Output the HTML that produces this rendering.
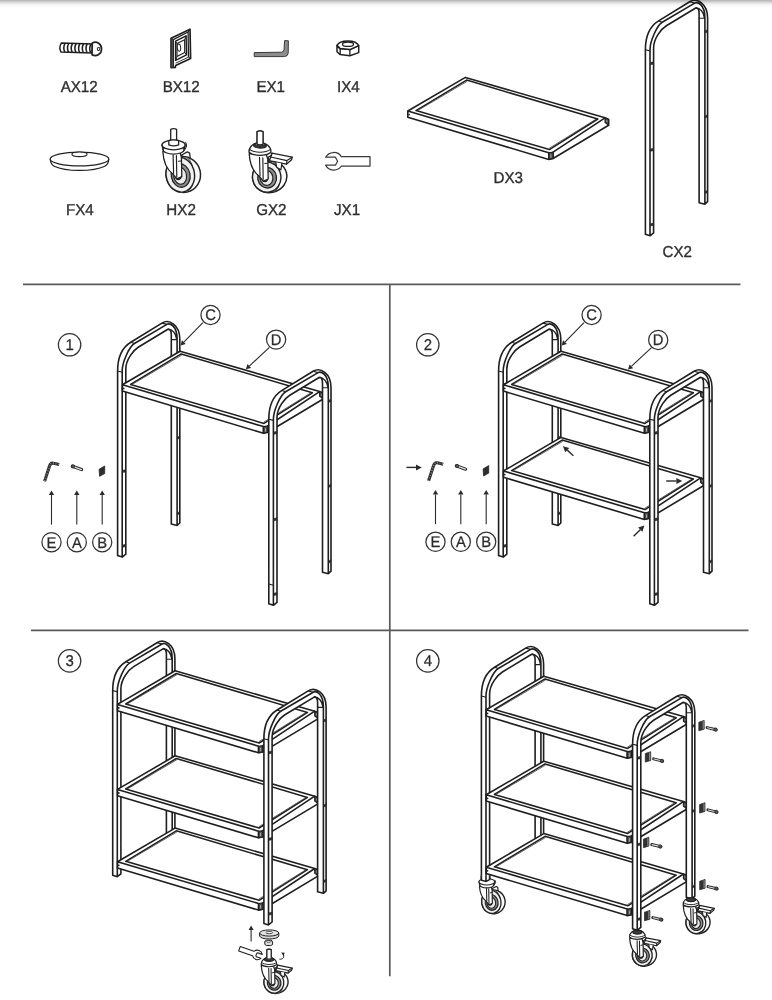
<!DOCTYPE html>
<html lang="en"><head><meta charset="utf-8"><title>Assembly instructions</title>
<style>
html,body{margin:0;padding:0;background:#fff;}
body{width:772px;height:1000px;overflow:hidden;position:relative;font-family:"Liberation Sans",sans-serif;}
.topshade{position:absolute;left:0;top:0;width:772px;height:8px;background:linear-gradient(to bottom,rgba(0,0,0,.3),rgba(0,0,0,.17) 25%,rgba(0,0,0,.06) 50%,rgba(0,0,0,.015) 75%,rgba(0,0,0,0));}
svg{position:absolute;left:0;top:0;display:block;will-change:transform;}
</style></head><body>
<svg width="772" height="1000" viewBox="0 0 772 1000"><path d="M23,284.4H740.5 M31,630.4H748.5 M389.8,284.4V976.2" stroke="#5a5a5a" stroke-width="1.7" fill="none"/>
<g transform="rotate(1.5 80 48)">
<path d="M61.2,43.6 H92.2 V52.6 H61.2 Q58.6,48.1 61.2,43.6Z" fill="#fff" stroke="#1f1f1f" stroke-width="1.5" />
<path d="M64.9,43.8 Q62.7,48.1 64.9,52.4M68.6,43.8 Q66.4,48.1 68.6,52.4M72.3,43.8 Q70.1,48.1 72.3,52.4M76,43.8 Q73.8,48.1 76,52.4M79.7,43.8 Q77.5,48.1 79.7,52.4M83.4,43.8 Q81.2,48.1 83.4,52.4M87.1,43.8 Q84.9,48.1 87.1,52.4M90.8,43.8 Q88.6,48.1 90.8,52.4" fill="none" stroke="#1f1f1f" stroke-width="1.55" />
<path d="M92.2,42.6 C96.5,40.2 101.6,43.4 101.6,48.6 C101.6,53.6 96.5,56.8 92.2,54.4Z" fill="#fff" stroke="#1f1f1f" stroke-width="1.6" />
<ellipse cx="98.6" cy="48.5" rx="1.3" ry="1.6" fill="#fff" stroke="#222" stroke-width="1"/>
</g>
<text text-rendering="geometricPrecision" transform="translate(79.2 91.9) scale(0.96 1)" font-size="15.8" text-anchor="middle" fill="#2e2e2e" font-family="Liberation Sans, sans-serif" stroke="#2e2e2e" stroke-width="0.35">AX12</text>
<path d="M171.1,38.3 L190,29.2 L190.6,58.5 L175.6,65.6 L175.4,67.3 L171.1,67.6Z" fill="#fff" stroke="#1f1f1f" stroke-width="1.7" stroke-linejoin="round"/>
<path d="M173.3,39.6 L188.1,32.0 L188.5,57.2 M173.3,39.6 V66.8" fill="none" stroke="#1f1f1f" stroke-width="1.3" stroke-linejoin="round"/>
<path d="M171.1,38.3 L173.3,39.6 M190,29.2 L188.1,32.0 M190.6,58.5 L188.5,57.2" fill="none" stroke="#1f1f1f" stroke-width="1" />
<path d="M171.1,38.3 L173.3,39.6 V67.2 L171.1,67.6Z" fill="#555" stroke="#1f1f1f" stroke-width="0.8" />
<path d="M175.6,41.2 L186.1,35.8 L186.5,54.8 L175.6,60.4Z" fill="none" stroke="#1f1f1f" stroke-width="1.5" stroke-linejoin="round"/>
<path d="M177.0,43.6 L184.6,39.8 L184.7,52.4 L177.0,56.4Z" fill="none" stroke="#1f1f1f" stroke-width="1.1" stroke-linejoin="round"/>
<path d="M175.6,63.2 L188.4,57.2 M175.6,60.4 L177,56.4 M186.5,54.8 L184.7,52.4 M186.1,35.8 L184.6,39.8 M175.6,41.2 L177,43.6" fill="none" stroke="#1f1f1f" stroke-width="0.9" />
<ellipse cx="179.0" cy="47.6" rx="1.7" ry="3.6" fill="#fff" stroke="#222" stroke-width="1" transform="rotate(-6 179 47.6)"/>
<text text-rendering="geometricPrecision" transform="translate(181.2 91.9) scale(0.96 1)" font-size="15.8" text-anchor="middle" fill="#2e2e2e" font-family="Liberation Sans, sans-serif" stroke="#2e2e2e" stroke-width="0.35">BX12</text>
<path d="M254.2,52.6 L281.6,52.2 Q283.8,52 284.0,49.8 L284.6,40.6 L288.4,40.8 L288.2,53.2 Q287.8,56.4 284.4,56.6 L254.2,56.6Z" fill="#8c8c8c" stroke="#3a3a3a" stroke-width="1" stroke-linejoin="round"/>
<text text-rendering="geometricPrecision" transform="translate(270.7 91.9) scale(0.96 1)" font-size="15.8" text-anchor="middle" fill="#2e2e2e" font-family="Liberation Sans, sans-serif" stroke="#2e2e2e" stroke-width="0.35">EX1</text>
<path d="M337.0,45.4 L340.2,48.6 L349.9,49.6 L358.7,45.6 L358.7,52.6 L349.9,55.7 L340.2,54.6 L337.0,51.8Z" fill="#fff" stroke="#1f1f1f" stroke-width="1.5" stroke-linejoin="round"/>
<path d="M337.0,45.4 C338.4,42.6 342.6,41.0 347.8,40.9 C353,40.9 357.4,42.6 358.7,45.6 L349.9,49.6 L340.2,48.6Z" fill="#fff" stroke="#1f1f1f" stroke-width="1.5" stroke-linejoin="round"/>
<path d="M340.2,48.6 L340.2,54.6 M349.9,49.6 L349.9,55.7" fill="none" stroke="#1f1f1f" stroke-width="1.3" />
<ellipse cx="348" cy="44.2" rx="5.5" ry="2.2" fill="#fff" stroke="#222" stroke-width="1.3"/>
<text text-rendering="geometricPrecision" transform="translate(348.3 91.9) scale(0.96 1)" font-size="15.8" text-anchor="middle" fill="#2e2e2e" font-family="Liberation Sans, sans-serif" stroke="#2e2e2e" stroke-width="0.35">IX4</text>
<path d="M50.2,159 C50.6,163.5 53,165.6 54.2,166.2 C66,171.8 93,171.8 104.8,166.2 C106,165.6 108.6,163.5 108.8,159" fill="#fff" stroke="#1f1f1f" stroke-width="1.2" />
<ellipse cx="79.5" cy="159" rx="29.3" ry="6.9" fill="#fff" stroke="#222" stroke-width="1.2"/>
<ellipse cx="79.5" cy="154.3" rx="7.6" ry="2.3" fill="#fff" stroke="#222" stroke-width="1.1"/>
<text text-rendering="geometricPrecision" transform="translate(79.8 215.4) scale(0.96 1)" font-size="15.8" text-anchor="middle" fill="#2e2e2e" font-family="Liberation Sans, sans-serif" stroke="#2e2e2e" stroke-width="0.35">FX4</text>
<g transform="translate(183,174.5) scale(1)" stroke-linejoin="round" stroke-linecap="round">
<path d="M-12.3,-45.2 L-12.3,-32.5 L-6.4,-32.5 L-6.4,-45.2 Q-9.3,-46.5 -12.3,-45.2Z" fill="#fff" stroke="#222" stroke-width="1.3"/>
<path d="M-1.4,-19.5 L4.4,-22.6 L6.6,-21.4 L7.4,-15.2 L2,-13Z" fill="#fff" stroke="#222" stroke-width="1.3"/>
<ellipse cx="0.3" cy="0" rx="17.2" ry="18" fill="#fbfbfb" stroke="#222" stroke-width="1.49" transform="rotate(-12 0.3 0)"/>
<path d="M3.4,-17.4 C12.6,-11.16 13.4,11.88 4.2,17.1" fill="none" stroke="#555" stroke-width="1.04"/>
<ellipse cx="-2.7" cy="0.2" rx="14.2" ry="17.5" fill="#f1f1f1" stroke="#222" stroke-width="1.43" transform="rotate(-10 -2.7 0.2)"/>
<ellipse cx="-2.3" cy="1" rx="9.4" ry="11.8" fill="#8c8c8c" stroke="#222" stroke-width="1.3" transform="rotate(-10 -2.3 1)"/>
<ellipse cx="-2.9" cy="1.2" rx="6.4" ry="8.6" fill="#ececec" stroke="#222" stroke-width="1.17" transform="rotate(-10 -2.9 1.2)"/>
<ellipse cx="-4.6" cy="1.9" rx="2.7" ry="3.1" fill="#222" stroke="#222" stroke-width="1.3"/>
<path d="M-20.2,-23.2 C-19.6,-12 -15.5,-4.5 -10.2,-0.6 L-6.0,4.4 L-1.2,2.2 L-1.6,-17.5 L-3.2,-22.5 Z" fill="#fff" stroke="#222" stroke-width="1.3"/>
<path d="M-9.9,-19.4 L-9.4,-1.2 M-6.6,-19.0 L-6.2,2.4" fill="none" stroke="#222" stroke-width="1.17"/>
<path d="M-4.6,-13.2 L-2,-13.6" fill="none" stroke="#222" stroke-width="1.04"/>
<ellipse cx="-9.4" cy="-25" rx="10.6" ry="4.6" fill="#fff" stroke="#222" stroke-width="1.3"/>
<path d="M-21,-29.5 L-20.0,-25.0 M2.2,-29.5 L1.2,-25.0" fill="none" stroke="#222" stroke-width="1.3"/>
<path d="M2.6,-31.8 C4.4,-29.6 3.6,-26.4 0.8,-24.2" fill="none" stroke="#222" stroke-width="1.04"/>
<ellipse cx="-9.4" cy="-29.5" rx="11.6" ry="4.8" fill="#fff" stroke="#222" stroke-width="1.3"/>
<path d="M-14.2,-34 L-14.2,-29.6 Q-9.3,-27.8 -4.4,-29.6 L-4.4,-34 Q-9.3,-35.4 -14.2,-34Z" fill="#fff" stroke="#222" stroke-width="1.3"/>
</g>
<text text-rendering="geometricPrecision" transform="translate(181.1 215.4) scale(0.96 1)" font-size="15.8" text-anchor="middle" fill="#2e2e2e" font-family="Liberation Sans, sans-serif" stroke="#2e2e2e" stroke-width="0.35">HX2</text>
<g transform="translate(269.4,176.8) scale(1)" stroke-linejoin="round" stroke-linecap="round">
<path d="M-12.3,-45.2 L-12.3,-32.5 L-6.4,-32.5 L-6.4,-45.2 Q-9.3,-46.5 -12.3,-45.2Z" fill="#fff" stroke="#222" stroke-width="1.3"/>
<path d="M-1.4,-19.5 L4.4,-22.6 L6.6,-21.4 L7.4,-15.2 L2,-13Z" fill="#fff" stroke="#222" stroke-width="1.3"/>
<ellipse cx="0.3" cy="0" rx="17.2" ry="15.8" fill="#fbfbfb" stroke="#222" stroke-width="1.49" transform="rotate(-12 0.3 0)"/>
<path d="M3.4,-15.2 C12.6,-9.8 13.4,10.43 4.2,14.9" fill="none" stroke="#555" stroke-width="1.04"/>
<ellipse cx="-2.7" cy="0.2" rx="14.2" ry="15.3" fill="#f1f1f1" stroke="#222" stroke-width="1.43" transform="rotate(-10 -2.7 0.2)"/>
<ellipse cx="-2.3" cy="0.88" rx="9.4" ry="10.36" fill="#8c8c8c" stroke="#222" stroke-width="1.3" transform="rotate(-10 -2.3 0.88)"/>
<ellipse cx="-2.9" cy="1.05" rx="6.4" ry="7.55" fill="#ececec" stroke="#222" stroke-width="1.17" transform="rotate(-10 -2.9 1.05)"/>
<ellipse cx="-4.6" cy="1.67" rx="2.7" ry="3.1" fill="#222" stroke="#222" stroke-width="1.3"/>
<path d="M-20.2,-23.2 C-19.6,-12 -15.5,-4.5 -10.2,-0.6 L-6.0,4.4 L-1.2,2.2 L-1.6,-17.5 L-3.2,-22.5 Z" fill="#fff" stroke="#222" stroke-width="1.3"/>
<path d="M-9.9,-19.4 L-9.4,-1.2 M-6.6,-19.0 L-6.2,2.4" fill="none" stroke="#222" stroke-width="1.17"/>
<path d="M-4.6,-13.2 L-2,-13.6" fill="none" stroke="#222" stroke-width="1.04"/>
<path d="M-20.4,-24.6 C-20.6,-30.5 -15.5,-34.2 -9.4,-34.2 C-3.3,-34.2 1.6,-30.5 1.6,-24.6 C-3.5,-20.4 -15.5,-20.4 -20.4,-24.6Z" fill="#fff" stroke="#222" stroke-width="1.3"/>
<path d="M-20.0,-27.4 C-15,-23.6 -3.8,-23.6 1.2,-27.4" fill="none" stroke="#222" stroke-width="1.04"/>
<ellipse cx="-9.4" cy="-31.4" rx="6.4" ry="2.6" fill="#3a3a3a" stroke="#222" stroke-width="1.3"/>
<ellipse cx="-9.4" cy="-32.6" rx="4.2" ry="1.6" fill="#fff" stroke="#222" stroke-width="1.04"/>
<path d="M-12.3,-45.2 L-12.3,-32.6 Q-9.3,-31.4 -6.4,-32.6 L-6.4,-45.2 Q-9.3,-46.5 -12.3,-45.2Z" fill="#fff" stroke="#222" stroke-width="1.3"/>
<path d="M0.6,-17.6 L2.6,-23.6 L22.8,-19.6 L22.2,-17.0 L17.0,-12.6 L-1.4,-16.4 Z" fill="#fff" stroke="#222" stroke-width="1.3"/>
<path d="M2.6,-23.6 L1.2,-19.8 L17.6,-16.2 L22.8,-19.6 M17.6,-16.2 L17.0,-12.6" fill="none" stroke="#222" stroke-width="1.17"/>
<path d="M6.4,-14.6 L7.2,-9.6 L11.6,-7.0 L12.4,-13.4" fill="#fff" stroke="#222" stroke-width="1.17"/>
</g>
<text text-rendering="geometricPrecision" transform="translate(271.3 215.4) scale(0.96 1)" font-size="15.8" text-anchor="middle" fill="#2e2e2e" font-family="Liberation Sans, sans-serif" stroke="#2e2e2e" stroke-width="0.35">GX2</text>
<path d="M341.4,156.6 H370 V166 H341.4 A9.3,9.3 0 0 1 325.6,165.2 H335.4 L337.6,161.2 L335.4,157.2 H325.6 A9.3,9.3 0 0 1 341.4,156.6Z" fill="#fff" stroke="#3a3a3a" stroke-width="1.25" stroke-linejoin="round"/>
<text text-rendering="geometricPrecision" transform="translate(347 215.4) scale(0.96 1)" font-size="15.8" text-anchor="middle" fill="#2e2e2e" font-family="Liberation Sans, sans-serif" stroke="#2e2e2e" stroke-width="0.35">JX1</text>
<path d="M407.8,111L465.4,77.4L605,117.8L608.6,119.4L608.6,125.2L553.1,158.5L548.8,159.4L407.8,117.3Z" fill="#fff" stroke="none" stroke-width="1.6" />
<path d="M407.8,111L465.4,77.4L605,117.8L553.1,152.2M548.8,152.8L407.8,111M407.8,111L407.8,117.3L548.8,159.4L548.8,152.8M553.1,158.5L608.6,125.2L608.6,119.4L605,117.8M548.8,159.4L553.1,158.5L553.1,152.2" fill="none" stroke="#1f1f1f" stroke-width="1.6" stroke-linejoin="round" stroke-linecap="round"/>
<path d="M416,110.6L466.6,80.1L597.8,119L549.4,149.6Z" fill="none" stroke="#1f1f1f" stroke-width="1.52" stroke-linejoin="round"/>
<path d="M417.6,110.6L467.2,81.3M596,119.2L549,148.4" fill="none" stroke="#444" stroke-width="0.8" />
<path d="M548.8,152.8L553.1,152.2L553.1,158.5L548.8,159.4Z" fill="#4a4a4a" stroke="#1f1f1f" stroke-width="1.1" />
<path d="M550.9,154.4L550.9,157.9" fill="none" stroke="#c4c4c4" stroke-width="0.8" />
<path d="M605,117.8L608.6,119.4L608.6,125.2L605,122.5Z" fill="#4a4a4a" stroke="#1f1f1f" stroke-width="1.1" />
<path d="M606.8,120L606.8,122.1" fill="none" stroke="#c4c4c4" stroke-width="0.7" />
<circle cx="409.1" cy="114.6" r="0.9" fill="#222"/>
<text text-rendering="geometricPrecision" transform="translate(508.2 183.4) scale(0.96 1)" font-size="15.8" text-anchor="middle" fill="#2e2e2e" font-family="Liberation Sans, sans-serif" stroke="#2e2e2e" stroke-width="0.35">DX3</text>
<path d="M645.4,234.3L645.4,49.7C645.4,41.3 647.6,27.6 658.6,20.9L689.7,1.8C696.9,-2.6 707.6,3.5 707.6,17.8L707.6,201.7L704.9,204.2L699.1,202.7L699.1,13.3C699.1,9.9 697.6,6.9 695.7,8L666.4,25.7C661.8,28.5 653.6,37.9 653.6,47.9L653.6,232.9L650,235.8Z" fill="#fff" stroke="none" stroke-width="1.6" />
<path d="M645.4,234.3L645.4,49.7C645.4,41.3 647.6,27.6 658.6,20.9L689.7,1.8C696.9,-2.6 707.6,3.5 707.6,17.8L707.6,201.7M650,235.8L650,49.7C650,41.2 656.9,25.4 662.2,22.2L694.7,3.1C697,1.7 704.9,3.7 704.9,17.8L704.9,204.2M653.6,232.9L653.6,47.9C653.6,37.9 661.8,28.5 666.4,25.7L695.7,8C697.6,6.9 699.1,9.9 699.1,13.3L699.1,202.7M695.7,8C700,7.9 703.6,11.8 704.7,18.3M645.4,234.3L650,235.8L653.6,232.9M699.1,202.7L704.9,204.2L707.6,201.7" fill="none" stroke="#1f1f1f" stroke-width="1.6" stroke-linejoin="round" stroke-linecap="round"/>
<path d="M645.4,49.7L650,50.9M658.6,20.9L662.2,22.2M699.1,18.3L704.7,18.3M689.7,1.8L694.7,3.1" fill="none" stroke="#1f1f1f" stroke-width="1.1" />
<path d="M650.3,62.6L653.4,61.8L653.4,64.2L650.3,64.8ZM650.3,149.1L653.4,148.3L653.4,150.7L650.3,151.3ZM650.3,223.8L653.4,223L653.4,225.4L650.3,226ZM705.1,30.9L707.4,29.7L707.4,32.1L705.1,32.9ZM705.1,115.9L707.4,114.7L707.4,117.1L705.1,117.9ZM705.1,191.5L707.4,190.3L707.4,192.7L705.1,193.5Z" fill="#333" stroke="#1f1f1f" stroke-width="0.5" />
<text text-rendering="geometricPrecision" transform="translate(677.2 257.3) scale(0.96 1)" font-size="15.8" text-anchor="middle" fill="#2e2e2e" font-family="Liberation Sans, sans-serif" stroke="#2e2e2e" stroke-width="0.35">CX2</text>
<path d="M117.6,555.6L117.6,371C117.6,362.6 119.8,348.9 130.8,342.2L161.9,323.1C169.1,318.7 179.8,324.8 179.8,339.1L179.8,523L177.1,525.5L171.3,524L171.3,334.6C171.3,331.2 169.8,328.2 167.9,329.3L138.6,347C134,349.8 125.8,359.2 125.8,369.2L125.8,554.2L122.2,557.1Z" fill="#fff" stroke="none" stroke-width="1.6" />
<path d="M117.6,555.6L117.6,371C117.6,362.6 119.8,348.9 130.8,342.2L161.9,323.1C169.1,318.7 179.8,324.8 179.8,339.1L179.8,523M122.2,557.1L122.2,371C122.2,362.5 129.1,346.7 134.4,343.5L166.9,324.4C169.2,323 177.1,325 177.1,339.1L177.1,525.5M125.8,554.2L125.8,369.2C125.8,359.2 134,349.8 138.6,347L167.9,329.3C169.8,328.2 171.3,331.2 171.3,334.6L171.3,524M167.9,329.3C172.2,329.2 175.8,333.1 176.9,339.6M117.6,555.6L122.2,557.1L125.8,554.2M171.3,524L177.1,525.5L179.8,523" fill="none" stroke="#1f1f1f" stroke-width="1.6" stroke-linejoin="round" stroke-linecap="round"/>
<path d="M117.6,371L122.2,372.2M130.8,342.2L134.4,343.5M171.3,339.6L176.9,339.6M161.9,323.1L166.9,324.4" fill="none" stroke="#1f1f1f" stroke-width="1.1" />
<path d="M122.5,383.9L125.6,383.1L125.6,385.5L122.5,386.1ZM122.5,470.4L125.6,469.6L125.6,472L122.5,472.6ZM122.5,545.1L125.6,544.3L125.6,546.7L122.5,547.3ZM177.3,352.2L179.6,351L179.6,353.4L177.3,354.2ZM177.3,437.2L179.6,436L179.6,438.4L177.3,439.2ZM177.3,512.8L179.6,511.6L179.6,514L177.3,514.8Z" fill="#333" stroke="#1f1f1f" stroke-width="0.5" />
<path d="M122.4,384.8L180,351.2L319.6,391.6L323.2,393.2L323.2,399L267.7,432.3L263.4,433.2L122.4,391.1Z" fill="#fff" stroke="none" stroke-width="1.6" />
<path d="M122.4,384.8L180,351.2L319.6,391.6L267.7,426M263.4,426.6L122.4,384.8M122.4,384.8L122.4,391.1L263.4,433.2L263.4,426.6M267.7,432.3L323.2,399L323.2,393.2L319.6,391.6M263.4,433.2L267.7,432.3L267.7,426" fill="none" stroke="#1f1f1f" stroke-width="1.6" stroke-linejoin="round" stroke-linecap="round"/>
<path d="M130.6,384.4L181.2,353.9L312.4,392.8L264,423.4Z" fill="none" stroke="#1f1f1f" stroke-width="1.52" stroke-linejoin="round"/>
<path d="M132.2,384.4L181.8,355.1M310.6,393L263.6,422.2" fill="none" stroke="#444" stroke-width="0.8" />
<path d="M263.4,426.6L267.7,426L267.7,432.3L263.4,433.2Z" fill="#4a4a4a" stroke="#1f1f1f" stroke-width="1.1" />
<path d="M265.5,428.2L265.5,431.7" fill="none" stroke="#c4c4c4" stroke-width="0.8" />
<path d="M319.6,391.6L323.2,393.2L323.2,399L319.6,396.3Z" fill="#4a4a4a" stroke="#1f1f1f" stroke-width="1.1" />
<path d="M321.4,393.8L321.4,395.9" fill="none" stroke="#c4c4c4" stroke-width="0.7" />
<circle cx="123.7" cy="388.4" r="0.9" fill="#222"/>
<path d="M268.8,603.8L268.8,419.2C268.8,410.8 271,397.1 282,390.4L313.1,371.3C320.3,366.9 331,373 331,387.3L331,571.2L328.3,573.7L322.5,572.2L322.5,382.8C322.5,379.4 321,376.4 319.1,377.5L289.8,395.2C285.2,398 277,407.4 277,417.4L277,602.4L273.4,605.3Z" fill="#fff" stroke="none" stroke-width="1.6" />
<path d="M268.8,603.8L268.8,419.2C268.8,410.8 271,397.1 282,390.4L313.1,371.3C320.3,366.9 331,373 331,387.3L331,571.2M273.4,605.3L273.4,419.2C273.4,410.7 280.3,394.9 285.6,391.7L318.1,372.6C320.4,371.2 328.3,373.2 328.3,387.3L328.3,573.7M277,602.4L277,417.4C277,407.4 285.2,398 289.8,395.2L319.1,377.5C321,376.4 322.5,379.4 322.5,382.8L322.5,572.2M319.1,377.5C323.4,377.4 327,381.3 328.1,387.8M268.8,603.8L273.4,605.3L277,602.4M322.5,572.2L328.3,573.7L331,571.2" fill="none" stroke="#1f1f1f" stroke-width="1.6" stroke-linejoin="round" stroke-linecap="round"/>
<path d="M268.8,419.2L273.4,420.4M282,390.4L285.6,391.7M322.5,387.8L328.1,387.8M313.1,371.3L318.1,372.6" fill="none" stroke="#1f1f1f" stroke-width="1.1" />
<path d="M273.7,432.1L276.8,431.3L276.8,433.7L273.7,434.3ZM273.7,518.6L276.8,517.8L276.8,520.2L273.7,520.8ZM273.7,593.3L276.8,592.5L276.8,594.9L273.7,595.5ZM328.5,400.4L330.8,399.2L330.8,401.6L328.5,402.4ZM328.5,485.4L330.8,484.2L330.8,486.6L328.5,487.4ZM328.5,561L330.8,559.8L330.8,562.2L328.5,563Z" fill="#333" stroke="#1f1f1f" stroke-width="0.5" />
<path d="M498.6,555.6L498.6,371C498.6,362.6 500.8,348.9 511.8,342.2L542.9,323.1C550.1,318.7 560.8,324.8 560.8,339.1L560.8,523L558.1,525.5L552.3,524L552.3,334.6C552.3,331.2 550.8,328.2 548.9,329.3L519.6,347C515,349.8 506.8,359.2 506.8,369.2L506.8,554.2L503.2,557.1Z" fill="#fff" stroke="none" stroke-width="1.6" />
<path d="M498.6,555.6L498.6,371C498.6,362.6 500.8,348.9 511.8,342.2L542.9,323.1C550.1,318.7 560.8,324.8 560.8,339.1L560.8,523M503.2,557.1L503.2,371C503.2,362.5 510.1,346.7 515.4,343.5L547.9,324.4C550.2,323 558.1,325 558.1,339.1L558.1,525.5M506.8,554.2L506.8,369.2C506.8,359.2 515,349.8 519.6,347L548.9,329.3C550.8,328.2 552.3,331.2 552.3,334.6L552.3,524M548.9,329.3C553.2,329.2 556.8,333.1 557.9,339.6M498.6,555.6L503.2,557.1L506.8,554.2M552.3,524L558.1,525.5L560.8,523" fill="none" stroke="#1f1f1f" stroke-width="1.6" stroke-linejoin="round" stroke-linecap="round"/>
<path d="M498.6,371L503.2,372.2M511.8,342.2L515.4,343.5M552.3,339.6L557.9,339.6M542.9,323.1L547.9,324.4" fill="none" stroke="#1f1f1f" stroke-width="1.1" />
<path d="M503.5,383.9L506.6,383.1L506.6,385.5L503.5,386.1ZM503.5,470.4L506.6,469.6L506.6,472L503.5,472.6ZM503.5,545.1L506.6,544.3L506.6,546.7L503.5,547.3ZM558.3,352.2L560.6,351L560.6,353.4L558.3,354.2ZM558.3,437.2L560.6,436L560.6,438.4L558.3,439.2ZM558.3,512.8L560.6,511.6L560.6,514L558.3,514.8Z" fill="#333" stroke="#1f1f1f" stroke-width="0.5" />
<path d="M503.4,384.8L561,351.2L700.6,391.6L704.2,393.2L704.2,399L648.7,432.3L644.4,433.2L503.4,391.1Z" fill="#fff" stroke="none" stroke-width="1.6" />
<path d="M503.4,384.8L561,351.2L700.6,391.6L648.7,426M644.4,426.6L503.4,384.8M503.4,384.8L503.4,391.1L644.4,433.2L644.4,426.6M648.7,432.3L704.2,399L704.2,393.2L700.6,391.6M644.4,433.2L648.7,432.3L648.7,426" fill="none" stroke="#1f1f1f" stroke-width="1.6" stroke-linejoin="round" stroke-linecap="round"/>
<path d="M511.6,384.4L562.2,353.9L693.4,392.8L645,423.4Z" fill="none" stroke="#1f1f1f" stroke-width="1.52" stroke-linejoin="round"/>
<path d="M513.2,384.4L562.8,355.1M691.6,393L644.6,422.2" fill="none" stroke="#444" stroke-width="0.8" />
<path d="M644.4,426.6L648.7,426L648.7,432.3L644.4,433.2Z" fill="#4a4a4a" stroke="#1f1f1f" stroke-width="1.1" />
<path d="M646.5,428.2L646.5,431.7" fill="none" stroke="#c4c4c4" stroke-width="0.8" />
<path d="M700.6,391.6L704.2,393.2L704.2,399L700.6,396.3Z" fill="#4a4a4a" stroke="#1f1f1f" stroke-width="1.1" />
<path d="M702.4,393.8L702.4,395.9" fill="none" stroke="#c4c4c4" stroke-width="0.7" />
<circle cx="504.7" cy="388.4" r="0.9" fill="#222"/>
<path d="M503.4,471L561,437.4L700.6,477.8L704.2,479.4L704.2,485.2L648.7,518.5L644.4,519.4L503.4,477.3Z" fill="#fff" stroke="none" stroke-width="1.6" />
<path d="M503.4,471L561,437.4L700.6,477.8L648.7,512.2M644.4,512.8L503.4,471M503.4,471L503.4,477.3L644.4,519.4L644.4,512.8M648.7,518.5L704.2,485.2L704.2,479.4L700.6,477.8M644.4,519.4L648.7,518.5L648.7,512.2" fill="none" stroke="#1f1f1f" stroke-width="1.6" stroke-linejoin="round" stroke-linecap="round"/>
<path d="M511.6,470.6L562.2,440.1L693.4,479L645,509.6Z" fill="none" stroke="#1f1f1f" stroke-width="1.52" stroke-linejoin="round"/>
<path d="M513.2,470.6L562.8,441.3M691.6,479.2L644.6,508.4" fill="none" stroke="#444" stroke-width="0.8" />
<path d="M644.4,512.8L648.7,512.2L648.7,518.5L644.4,519.4Z" fill="#4a4a4a" stroke="#1f1f1f" stroke-width="1.1" />
<path d="M646.5,514.4L646.5,517.9" fill="none" stroke="#c4c4c4" stroke-width="0.8" />
<path d="M700.6,477.8L704.2,479.4L704.2,485.2L700.6,482.5Z" fill="#4a4a4a" stroke="#1f1f1f" stroke-width="1.1" />
<path d="M702.4,480L702.4,482.1" fill="none" stroke="#c4c4c4" stroke-width="0.7" />
<circle cx="504.7" cy="474.6" r="0.9" fill="#222"/>
<path d="M649.8,603.8L649.8,419.2C649.8,410.8 652,397.1 663,390.4L694.1,371.3C701.3,366.9 712,373 712,387.3L712,571.2L709.3,573.7L703.5,572.2L703.5,382.8C703.5,379.4 702,376.4 700.1,377.5L670.8,395.2C666.2,398 658,407.4 658,417.4L658,602.4L654.4,605.3Z" fill="#fff" stroke="none" stroke-width="1.6" />
<path d="M649.8,603.8L649.8,419.2C649.8,410.8 652,397.1 663,390.4L694.1,371.3C701.3,366.9 712,373 712,387.3L712,571.2M654.4,605.3L654.4,419.2C654.4,410.7 661.3,394.9 666.6,391.7L699.1,372.6C701.4,371.2 709.3,373.2 709.3,387.3L709.3,573.7M658,602.4L658,417.4C658,407.4 666.2,398 670.8,395.2L700.1,377.5C702,376.4 703.5,379.4 703.5,382.8L703.5,572.2M700.1,377.5C704.4,377.4 708,381.3 709.1,387.8M649.8,603.8L654.4,605.3L658,602.4M703.5,572.2L709.3,573.7L712,571.2" fill="none" stroke="#1f1f1f" stroke-width="1.6" stroke-linejoin="round" stroke-linecap="round"/>
<path d="M649.8,419.2L654.4,420.4M663,390.4L666.6,391.7M703.5,387.8L709.1,387.8M694.1,371.3L699.1,372.6" fill="none" stroke="#1f1f1f" stroke-width="1.1" />
<path d="M654.7,432.1L657.8,431.3L657.8,433.7L654.7,434.3ZM654.7,518.6L657.8,517.8L657.8,520.2L654.7,520.8ZM654.7,593.3L657.8,592.5L657.8,594.9L654.7,595.5ZM709.5,400.4L711.8,399.2L711.8,401.6L709.5,402.4ZM709.5,485.4L711.8,484.2L711.8,486.6L709.5,487.4ZM709.5,561L711.8,559.8L711.8,562.2L709.5,563Z" fill="#333" stroke="#1f1f1f" stroke-width="0.5" />
<path d="M112.7,875.2L112.7,690.6C112.7,682.2 114.9,668.5 125.9,661.8L157,642.7C164.2,638.3 174.9,644.4 174.9,658.7L174.9,842.6L172.2,845.1L166.4,843.6L166.4,654.2C166.4,650.8 164.9,647.8 163,648.9L133.7,666.6C129.1,669.4 120.9,678.8 120.9,688.8L120.9,873.8L117.3,876.7Z" fill="#fff" stroke="none" stroke-width="1.6" />
<path d="M112.7,875.2L112.7,690.6C112.7,682.2 114.9,668.5 125.9,661.8L157,642.7C164.2,638.3 174.9,644.4 174.9,658.7L174.9,842.6M117.3,876.7L117.3,690.6C117.3,682.1 124.2,666.3 129.5,663.1L162,644C164.3,642.6 172.2,644.6 172.2,658.7L172.2,845.1M120.9,873.8L120.9,688.8C120.9,678.8 129.1,669.4 133.7,666.6L163,648.9C164.9,647.8 166.4,650.8 166.4,654.2L166.4,843.6M163,648.9C167.3,648.8 170.9,652.7 172,659.2M112.7,875.2L117.3,876.7L120.9,873.8M166.4,843.6L172.2,845.1L174.9,842.6" fill="none" stroke="#1f1f1f" stroke-width="1.6" stroke-linejoin="round" stroke-linecap="round"/>
<path d="M112.7,690.6L117.3,691.8M125.9,661.8L129.5,663.1M166.4,659.2L172,659.2M157,642.7L162,644" fill="none" stroke="#1f1f1f" stroke-width="1.1" />
<path d="M117.6,703.5L120.7,702.7L120.7,705.1L117.6,705.7ZM117.6,790L120.7,789.2L120.7,791.6L117.6,792.2ZM117.6,864.7L120.7,863.9L120.7,866.3L117.6,866.9ZM172.4,671.8L174.7,670.6L174.7,673L172.4,673.8ZM172.4,756.8L174.7,755.6L174.7,758L172.4,758.8ZM172.4,832.4L174.7,831.2L174.7,833.6L172.4,834.4Z" fill="#333" stroke="#1f1f1f" stroke-width="0.5" />
<path d="M117.5,704.4L175.1,670.8L314.7,711.2L318.3,712.8L318.3,718.6L262.8,751.9L258.5,752.8L117.5,710.7Z" fill="#fff" stroke="none" stroke-width="1.6" />
<path d="M117.5,704.4L175.1,670.8L314.7,711.2L262.8,745.6M258.5,746.2L117.5,704.4M117.5,704.4L117.5,710.7L258.5,752.8L258.5,746.2M262.8,751.9L318.3,718.6L318.3,712.8L314.7,711.2M258.5,752.8L262.8,751.9L262.8,745.6" fill="none" stroke="#1f1f1f" stroke-width="1.6" stroke-linejoin="round" stroke-linecap="round"/>
<path d="M125.7,704L176.3,673.5L307.5,712.4L259.1,743Z" fill="none" stroke="#1f1f1f" stroke-width="1.52" stroke-linejoin="round"/>
<path d="M127.3,704L176.9,674.7M305.7,712.6L258.7,741.8" fill="none" stroke="#444" stroke-width="0.8" />
<path d="M258.5,746.2L262.8,745.6L262.8,751.9L258.5,752.8Z" fill="#4a4a4a" stroke="#1f1f1f" stroke-width="1.1" />
<path d="M260.6,747.8L260.6,751.3" fill="none" stroke="#c4c4c4" stroke-width="0.8" />
<path d="M314.7,711.2L318.3,712.8L318.3,718.6L314.7,715.9Z" fill="#4a4a4a" stroke="#1f1f1f" stroke-width="1.1" />
<path d="M316.5,713.4L316.5,715.5" fill="none" stroke="#c4c4c4" stroke-width="0.7" />
<circle cx="118.8" cy="708" r="0.9" fill="#222"/>
<path d="M117.5,789.4L175.1,755.8L314.7,796.2L318.3,797.8L318.3,803.6L262.8,836.9L258.5,837.8L117.5,795.7Z" fill="#fff" stroke="none" stroke-width="1.6" />
<path d="M117.5,789.4L175.1,755.8L314.7,796.2L262.8,830.6M258.5,831.2L117.5,789.4M117.5,789.4L117.5,795.7L258.5,837.8L258.5,831.2M262.8,836.9L318.3,803.6L318.3,797.8L314.7,796.2M258.5,837.8L262.8,836.9L262.8,830.6" fill="none" stroke="#1f1f1f" stroke-width="1.6" stroke-linejoin="round" stroke-linecap="round"/>
<path d="M125.7,789L176.3,758.5L307.5,797.4L259.1,828Z" fill="none" stroke="#1f1f1f" stroke-width="1.52" stroke-linejoin="round"/>
<path d="M127.3,789L176.9,759.7M305.7,797.6L258.7,826.8" fill="none" stroke="#444" stroke-width="0.8" />
<path d="M258.5,831.2L262.8,830.6L262.8,836.9L258.5,837.8Z" fill="#4a4a4a" stroke="#1f1f1f" stroke-width="1.1" />
<path d="M260.6,832.8L260.6,836.3" fill="none" stroke="#c4c4c4" stroke-width="0.8" />
<path d="M314.7,796.2L318.3,797.8L318.3,803.6L314.7,800.9Z" fill="#4a4a4a" stroke="#1f1f1f" stroke-width="1.1" />
<path d="M316.5,798.4L316.5,800.5" fill="none" stroke="#c4c4c4" stroke-width="0.7" />
<circle cx="118.8" cy="793" r="0.9" fill="#222"/>
<path d="M117.5,861.7L175.1,828.1L314.7,868.5L318.3,870.1L318.3,875.9L262.8,909.2L258.5,910.1L117.5,868Z" fill="#fff" stroke="none" stroke-width="1.6" />
<path d="M117.5,861.7L175.1,828.1L314.7,868.5L262.8,902.9M258.5,903.5L117.5,861.7M117.5,861.7L117.5,868L258.5,910.1L258.5,903.5M262.8,909.2L318.3,875.9L318.3,870.1L314.7,868.5M258.5,910.1L262.8,909.2L262.8,902.9" fill="none" stroke="#1f1f1f" stroke-width="1.6" stroke-linejoin="round" stroke-linecap="round"/>
<path d="M125.7,861.3L176.3,830.8L307.5,869.7L259.1,900.3Z" fill="none" stroke="#1f1f1f" stroke-width="1.52" stroke-linejoin="round"/>
<path d="M127.3,861.3L176.9,832M305.7,869.9L258.7,899.1" fill="none" stroke="#444" stroke-width="0.8" />
<path d="M258.5,903.5L262.8,902.9L262.8,909.2L258.5,910.1Z" fill="#4a4a4a" stroke="#1f1f1f" stroke-width="1.1" />
<path d="M260.6,905.1L260.6,908.6" fill="none" stroke="#c4c4c4" stroke-width="0.8" />
<path d="M314.7,868.5L318.3,870.1L318.3,875.9L314.7,873.2Z" fill="#4a4a4a" stroke="#1f1f1f" stroke-width="1.1" />
<path d="M316.5,870.7L316.5,872.8" fill="none" stroke="#c4c4c4" stroke-width="0.7" />
<circle cx="118.8" cy="865.3" r="0.9" fill="#222"/>
<path d="M263.9,923.4L263.9,738.8C263.9,730.4 266.1,716.7 277.1,710L308.2,690.9C315.4,686.5 326.1,692.6 326.1,706.9L326.1,890.8L323.4,893.3L317.6,891.8L317.6,702.4C317.6,699 316.1,696 314.2,697.1L284.9,714.8C280.3,717.6 272.1,727 272.1,737L272.1,922L268.5,924.9Z" fill="#fff" stroke="none" stroke-width="1.6" />
<path d="M263.9,923.4L263.9,738.8C263.9,730.4 266.1,716.7 277.1,710L308.2,690.9C315.4,686.5 326.1,692.6 326.1,706.9L326.1,890.8M268.5,924.9L268.5,738.8C268.5,730.3 275.4,714.5 280.7,711.3L313.2,692.2C315.5,690.8 323.4,692.8 323.4,706.9L323.4,893.3M272.1,922L272.1,737C272.1,727 280.3,717.6 284.9,714.8L314.2,697.1C316.1,696 317.6,699 317.6,702.4L317.6,891.8M314.2,697.1C318.5,697 322.1,700.9 323.2,707.4M263.9,923.4L268.5,924.9L272.1,922M317.6,891.8L323.4,893.3L326.1,890.8" fill="none" stroke="#1f1f1f" stroke-width="1.6" stroke-linejoin="round" stroke-linecap="round"/>
<path d="M263.9,738.8L268.5,740M277.1,710L280.7,711.3M317.6,707.4L323.2,707.4M308.2,690.9L313.2,692.2" fill="none" stroke="#1f1f1f" stroke-width="1.1" />
<path d="M268.8,751.7L271.9,750.9L271.9,753.3L268.8,753.9ZM268.8,838.2L271.9,837.4L271.9,839.8L268.8,840.4ZM268.8,912.9L271.9,912.1L271.9,914.5L268.8,915.1ZM323.6,720L325.9,718.8L325.9,721.2L323.6,722ZM323.6,805L325.9,803.8L325.9,806.2L323.6,807ZM323.6,880.6L325.9,879.4L325.9,881.8L323.6,882.6Z" fill="#333" stroke="#1f1f1f" stroke-width="0.5" />
<path d="M481.4,880.6L481.4,696C481.4,687.6 483.6,673.9 494.6,667.2L525.7,648.1C532.9,643.7 543.6,649.8 543.6,664.1L543.6,848L540.9,850.5L535.1,849L535.1,659.6C535.1,656.2 533.6,653.2 531.7,654.3L502.4,672C497.8,674.8 489.6,684.2 489.6,694.2L489.6,879.2L486,882.1Z" fill="#fff" stroke="none" stroke-width="1.6" />
<path d="M481.4,880.6L481.4,696C481.4,687.6 483.6,673.9 494.6,667.2L525.7,648.1C532.9,643.7 543.6,649.8 543.6,664.1L543.6,848M486,882.1L486,696C486,687.5 492.9,671.7 498.2,668.5L530.7,649.4C533,648 540.9,650 540.9,664.1L540.9,850.5M489.6,879.2L489.6,694.2C489.6,684.2 497.8,674.8 502.4,672L531.7,654.3C533.6,653.2 535.1,656.2 535.1,659.6L535.1,849M531.7,654.3C536,654.2 539.6,658.1 540.7,664.6M481.4,880.6L486,882.1L489.6,879.2M535.1,849L540.9,850.5L543.6,848" fill="none" stroke="#1f1f1f" stroke-width="1.6" stroke-linejoin="round" stroke-linecap="round"/>
<path d="M481.4,696L486,697.2M494.6,667.2L498.2,668.5M535.1,664.6L540.7,664.6M525.7,648.1L530.7,649.4" fill="none" stroke="#1f1f1f" stroke-width="1.1" />
<path d="M486.3,708.9L489.4,708.1L489.4,710.5L486.3,711.1ZM486.3,795.4L489.4,794.6L489.4,797L486.3,797.6ZM486.3,870.1L489.4,869.3L489.4,871.7L486.3,872.3ZM541.1,677.2L543.4,676L543.4,678.4L541.1,679.2ZM541.1,762.2L543.4,761L543.4,763.4L541.1,764.2ZM541.1,837.8L543.4,836.6L543.4,839L541.1,839.8Z" fill="#333" stroke="#1f1f1f" stroke-width="0.5" />
<path d="M486.2,709.8L543.8,676.2L683.4,716.6L687,718.2L687,724L631.5,757.3L627.2,758.2L486.2,716.1Z" fill="#fff" stroke="none" stroke-width="1.6" />
<path d="M486.2,709.8L543.8,676.2L683.4,716.6L631.5,751M627.2,751.6L486.2,709.8M486.2,709.8L486.2,716.1L627.2,758.2L627.2,751.6M631.5,757.3L687,724L687,718.2L683.4,716.6M627.2,758.2L631.5,757.3L631.5,751" fill="none" stroke="#1f1f1f" stroke-width="1.6" stroke-linejoin="round" stroke-linecap="round"/>
<path d="M494.4,709.4L545,678.9L676.2,717.8L627.8,748.4Z" fill="none" stroke="#1f1f1f" stroke-width="1.52" stroke-linejoin="round"/>
<path d="M496,709.4L545.6,680.1M674.4,718L627.4,747.2" fill="none" stroke="#444" stroke-width="0.8" />
<path d="M627.2,751.6L631.5,751L631.5,757.3L627.2,758.2Z" fill="#4a4a4a" stroke="#1f1f1f" stroke-width="1.1" />
<path d="M629.3,753.2L629.3,756.7" fill="none" stroke="#c4c4c4" stroke-width="0.8" />
<path d="M683.4,716.6L687,718.2L687,724L683.4,721.3Z" fill="#4a4a4a" stroke="#1f1f1f" stroke-width="1.1" />
<path d="M685.2,718.8L685.2,720.9" fill="none" stroke="#c4c4c4" stroke-width="0.7" />
<circle cx="487.5" cy="713.4" r="0.9" fill="#222"/>
<path d="M486.2,794.8L543.8,761.2L683.4,801.6L687,803.2L687,809L631.5,842.3L627.2,843.2L486.2,801.1Z" fill="#fff" stroke="none" stroke-width="1.6" />
<path d="M486.2,794.8L543.8,761.2L683.4,801.6L631.5,836M627.2,836.6L486.2,794.8M486.2,794.8L486.2,801.1L627.2,843.2L627.2,836.6M631.5,842.3L687,809L687,803.2L683.4,801.6M627.2,843.2L631.5,842.3L631.5,836" fill="none" stroke="#1f1f1f" stroke-width="1.6" stroke-linejoin="round" stroke-linecap="round"/>
<path d="M494.4,794.4L545,763.9L676.2,802.8L627.8,833.4Z" fill="none" stroke="#1f1f1f" stroke-width="1.52" stroke-linejoin="round"/>
<path d="M496,794.4L545.6,765.1M674.4,803L627.4,832.2" fill="none" stroke="#444" stroke-width="0.8" />
<path d="M627.2,836.6L631.5,836L631.5,842.3L627.2,843.2Z" fill="#4a4a4a" stroke="#1f1f1f" stroke-width="1.1" />
<path d="M629.3,838.2L629.3,841.7" fill="none" stroke="#c4c4c4" stroke-width="0.8" />
<path d="M683.4,801.6L687,803.2L687,809L683.4,806.3Z" fill="#4a4a4a" stroke="#1f1f1f" stroke-width="1.1" />
<path d="M685.2,803.8L685.2,805.9" fill="none" stroke="#c4c4c4" stroke-width="0.7" />
<circle cx="487.5" cy="798.4" r="0.9" fill="#222"/>
<path d="M486.2,867.2L543.8,833.6L683.4,874L687,875.6L687,881.4L631.5,914.7L627.2,915.6L486.2,873.5Z" fill="#fff" stroke="none" stroke-width="1.6" />
<path d="M486.2,867.2L543.8,833.6L683.4,874L631.5,908.4M627.2,909L486.2,867.2M486.2,867.2L486.2,873.5L627.2,915.6L627.2,909M631.5,914.7L687,881.4L687,875.6L683.4,874M627.2,915.6L631.5,914.7L631.5,908.4" fill="none" stroke="#1f1f1f" stroke-width="1.6" stroke-linejoin="round" stroke-linecap="round"/>
<path d="M494.4,866.8L545,836.3L676.2,875.2L627.8,905.8Z" fill="none" stroke="#1f1f1f" stroke-width="1.52" stroke-linejoin="round"/>
<path d="M496,866.8L545.6,837.5M674.4,875.4L627.4,904.6" fill="none" stroke="#444" stroke-width="0.8" />
<path d="M627.2,909L631.5,908.4L631.5,914.7L627.2,915.6Z" fill="#4a4a4a" stroke="#1f1f1f" stroke-width="1.1" />
<path d="M629.3,910.6L629.3,914.1" fill="none" stroke="#c4c4c4" stroke-width="0.8" />
<path d="M683.4,874L687,875.6L687,881.4L683.4,878.7Z" fill="#4a4a4a" stroke="#1f1f1f" stroke-width="1.1" />
<path d="M685.2,876.2L685.2,878.3" fill="none" stroke="#c4c4c4" stroke-width="0.7" />
<circle cx="487.5" cy="870.8" r="0.9" fill="#222"/>
<path d="M632.6,928.8L632.6,744.2C632.6,735.8 634.8,722.1 645.8,715.4L676.9,696.3C684.1,691.9 694.8,698 694.8,712.3L694.8,896.2L692.1,898.7L686.3,897.2L686.3,707.8C686.3,704.4 684.8,701.4 682.9,702.5L653.6,720.2C649,723 640.8,732.4 640.8,742.4L640.8,927.4L637.2,930.3Z" fill="#fff" stroke="none" stroke-width="1.6" />
<path d="M632.6,928.8L632.6,744.2C632.6,735.8 634.8,722.1 645.8,715.4L676.9,696.3C684.1,691.9 694.8,698 694.8,712.3L694.8,896.2M637.2,930.3L637.2,744.2C637.2,735.7 644.1,719.9 649.4,716.7L681.9,697.6C684.2,696.2 692.1,698.2 692.1,712.3L692.1,898.7M640.8,927.4L640.8,742.4C640.8,732.4 649,723 653.6,720.2L682.9,702.5C684.8,701.4 686.3,704.4 686.3,707.8L686.3,897.2M682.9,702.5C687.2,702.4 690.8,706.3 691.9,712.8M632.6,928.8L637.2,930.3L640.8,927.4M686.3,897.2L692.1,898.7L694.8,896.2" fill="none" stroke="#1f1f1f" stroke-width="1.6" stroke-linejoin="round" stroke-linecap="round"/>
<path d="M632.6,744.2L637.2,745.4M645.8,715.4L649.4,716.7M686.3,712.8L691.9,712.8M676.9,696.3L681.9,697.6" fill="none" stroke="#1f1f1f" stroke-width="1.1" />
<path d="M637.5,757.1L640.6,756.3L640.6,758.7L637.5,759.3ZM637.5,843.6L640.6,842.8L640.6,845.2L637.5,845.8ZM637.5,918.3L640.6,917.5L640.6,919.9L637.5,920.5ZM692.3,725.4L694.6,724.2L694.6,726.6L692.3,727.4ZM692.3,810.4L694.6,809.2L694.6,811.6L692.3,812.4ZM692.3,886L694.6,884.8L694.6,887.2L692.3,888Z" fill="#333" stroke="#1f1f1f" stroke-width="0.5" />
<circle cx="69.6" cy="344.8" r="11.2" fill="none" stroke="#333" stroke-width="1.25"/>
<text text-rendering="geometricPrecision" transform="translate(69.6 350.3) scale(0.96 1)" font-size="15.6" text-anchor="middle" fill="#2a2a2a" font-family="Liberation Sans, sans-serif" stroke="#2a2a2a" stroke-width="0.25">1</text>
<circle cx="427.8" cy="344.8" r="11.2" fill="none" stroke="#333" stroke-width="1.25"/>
<text text-rendering="geometricPrecision" transform="translate(427.8 350.3) scale(0.96 1)" font-size="15.6" text-anchor="middle" fill="#2a2a2a" font-family="Liberation Sans, sans-serif" stroke="#2a2a2a" stroke-width="0.25">2</text>
<circle cx="69.6" cy="660.9" r="11.2" fill="none" stroke="#333" stroke-width="1.25"/>
<text text-rendering="geometricPrecision" transform="translate(69.6 666.4) scale(0.96 1)" font-size="15.6" text-anchor="middle" fill="#2a2a2a" font-family="Liberation Sans, sans-serif" stroke="#2a2a2a" stroke-width="0.25">3</text>
<circle cx="427.8" cy="660.9" r="11.2" fill="none" stroke="#333" stroke-width="1.25"/>
<text text-rendering="geometricPrecision" transform="translate(427.8 666.4) scale(0.96 1)" font-size="15.6" text-anchor="middle" fill="#2a2a2a" font-family="Liberation Sans, sans-serif" stroke="#2a2a2a" stroke-width="0.25">4</text>
<path d="M202.9,322.6L183.82,342.11" stroke="#2a2a2a" stroke-width="1.1" fill="none"/>
<path d="M180.6,345.4L181.89,340.22L185.75,344Z" fill="#2a2a2a"/>
<circle cx="210.5" cy="315" r="9.6" fill="none" stroke="#333" stroke-width="1.25"/>
<text text-rendering="geometricPrecision" transform="translate(210.5 320.4) scale(0.96 1)" font-size="15.4" text-anchor="middle" fill="#2a2a2a" font-family="Liberation Sans, sans-serif" stroke="#2a2a2a" stroke-width="0.25">C</text>
<path d="M269.4,347.4L249.27,366.07" stroke="#2a2a2a" stroke-width="1.1" fill="none"/>
<path d="M245.9,369.2L247.44,364.09L251.11,368.05Z" fill="#2a2a2a"/>
<circle cx="276.1" cy="339.6" r="9.6" fill="none" stroke="#333" stroke-width="1.25"/>
<text text-rendering="geometricPrecision" transform="translate(276.1 345) scale(0.96 1)" font-size="15.4" text-anchor="middle" fill="#2a2a2a" font-family="Liberation Sans, sans-serif" stroke="#2a2a2a" stroke-width="0.25">D</text>
<path d="M584,322.6L564.92,342.11" stroke="#2a2a2a" stroke-width="1.1" fill="none"/>
<path d="M561.7,345.4L562.99,340.22L566.85,344Z" fill="#2a2a2a"/>
<circle cx="591.6" cy="315" r="9.6" fill="none" stroke="#333" stroke-width="1.25"/>
<text text-rendering="geometricPrecision" transform="translate(591.6 320.4) scale(0.96 1)" font-size="15.4" text-anchor="middle" fill="#2a2a2a" font-family="Liberation Sans, sans-serif" stroke="#2a2a2a" stroke-width="0.25">C</text>
<path d="M651.5,347.7L631.37,366.37" stroke="#2a2a2a" stroke-width="1.1" fill="none"/>
<path d="M628,369.5L629.54,364.39L633.21,368.35Z" fill="#2a2a2a"/>
<circle cx="658.2" cy="339.9" r="9.6" fill="none" stroke="#333" stroke-width="1.25"/>
<text text-rendering="geometricPrecision" transform="translate(658.2 345.3) scale(0.96 1)" font-size="15.4" text-anchor="middle" fill="#2a2a2a" font-family="Liberation Sans, sans-serif" stroke="#2a2a2a" stroke-width="0.25">D</text>
<path d="M51.5,524.6L51.5,495" stroke="#2a2a2a" stroke-width="1.1" fill="none"/>
<path d="M51.5,490.4L54.2,495L48.8,495Z" fill="#2a2a2a"/>
<circle cx="51.5" cy="542.2" r="9.6" fill="none" stroke="#333" stroke-width="1.25"/>
<text text-rendering="geometricPrecision" transform="translate(51.5 547.6) scale(0.96 1)" font-size="15.4" text-anchor="middle" fill="#2a2a2a" font-family="Liberation Sans, sans-serif" stroke="#2a2a2a" stroke-width="0.25">E</text>
<path d="M76.8,524.6L76.8,495" stroke="#2a2a2a" stroke-width="1.1" fill="none"/>
<path d="M76.8,490.4L79.5,495L74.1,495Z" fill="#2a2a2a"/>
<circle cx="76.8" cy="542.2" r="9.6" fill="none" stroke="#333" stroke-width="1.25"/>
<text text-rendering="geometricPrecision" transform="translate(76.8 547.6) scale(0.96 1)" font-size="15.4" text-anchor="middle" fill="#2a2a2a" font-family="Liberation Sans, sans-serif" stroke="#2a2a2a" stroke-width="0.25">A</text>
<path d="M102.2,524.6L102.2,495" stroke="#2a2a2a" stroke-width="1.1" fill="none"/>
<path d="M102.2,490.4L104.9,495L99.5,495Z" fill="#2a2a2a"/>
<circle cx="102.2" cy="542.2" r="9.6" fill="none" stroke="#333" stroke-width="1.25"/>
<text text-rendering="geometricPrecision" transform="translate(102.2 547.6) scale(0.96 1)" font-size="15.4" text-anchor="middle" fill="#2a2a2a" font-family="Liberation Sans, sans-serif" stroke="#2a2a2a" stroke-width="0.25">B</text>
<path d="M44.6,481.2L49.6,465.8Q50.6,462.6 53.4,463.2L59.2,464.6" fill="none" stroke="#2e2e2e" stroke-width="3.1" stroke-linejoin="round"/>
<path d="M44.6,481.2L49.6,465.8Q50.6,462.6 53.4,463.2L59.2,464.6" fill="none" stroke="#8a8a8a" stroke-width="1.7" stroke-dasharray="0.9 1.7" stroke-linejoin="round"/>
<path d="M72.4,466.2L81.6,469.6" stroke="#2a2a2a" stroke-width="3.2" stroke-linecap="round" fill="none"/>
<path d="M72.8,466.3L81.4,469.55" stroke="#ddd" stroke-width="1.3" stroke-linecap="round" fill="none"/>
<circle cx="73" cy="466.4" r="1.7" fill="#555" stroke="#222" stroke-width="0.7"/>
<path d="M99.1,469.3L104.7,466L104.7,473.5L99.6,476.3Z" fill="#2e2e2e" stroke="#222" stroke-width="0.8" stroke-linejoin="round"/>
<path d="M435.5,524.2L435.5,494.6" stroke="#2a2a2a" stroke-width="1.1" fill="none"/>
<path d="M435.5,490L438.2,494.6L432.8,494.6Z" fill="#2a2a2a"/>
<circle cx="435.5" cy="541.8" r="9.6" fill="none" stroke="#333" stroke-width="1.25"/>
<text text-rendering="geometricPrecision" transform="translate(435.5 547.2) scale(0.96 1)" font-size="15.4" text-anchor="middle" fill="#2a2a2a" font-family="Liberation Sans, sans-serif" stroke="#2a2a2a" stroke-width="0.25">E</text>
<path d="M460.8,524.2L460.8,494.6" stroke="#2a2a2a" stroke-width="1.1" fill="none"/>
<path d="M460.8,490L463.5,494.6L458.1,494.6Z" fill="#2a2a2a"/>
<circle cx="460.8" cy="541.8" r="9.6" fill="none" stroke="#333" stroke-width="1.25"/>
<text text-rendering="geometricPrecision" transform="translate(460.8 547.2) scale(0.96 1)" font-size="15.4" text-anchor="middle" fill="#2a2a2a" font-family="Liberation Sans, sans-serif" stroke="#2a2a2a" stroke-width="0.25">A</text>
<path d="M486.2,524.2L486.2,494.6" stroke="#2a2a2a" stroke-width="1.1" fill="none"/>
<path d="M486.2,490L488.9,494.6L483.5,494.6Z" fill="#2a2a2a"/>
<circle cx="486.2" cy="541.8" r="9.6" fill="none" stroke="#333" stroke-width="1.25"/>
<text text-rendering="geometricPrecision" transform="translate(486.2 547.2) scale(0.96 1)" font-size="15.4" text-anchor="middle" fill="#2a2a2a" font-family="Liberation Sans, sans-serif" stroke="#2a2a2a" stroke-width="0.25">B</text>
<path d="M428.6,480.8L433.6,465.4Q434.6,462.2 437.4,462.8L443.2,464.2" fill="none" stroke="#2e2e2e" stroke-width="3.1" stroke-linejoin="round"/>
<path d="M428.6,480.8L433.6,465.4Q434.6,462.2 437.4,462.8L443.2,464.2" fill="none" stroke="#8a8a8a" stroke-width="1.7" stroke-dasharray="0.9 1.7" stroke-linejoin="round"/>
<path d="M456.4,465.8L465.6,469.2" stroke="#2a2a2a" stroke-width="3.2" stroke-linecap="round" fill="none"/>
<path d="M456.8,465.9L465.4,469.15" stroke="#ddd" stroke-width="1.3" stroke-linecap="round" fill="none"/>
<circle cx="457" cy="466" r="1.7" fill="#555" stroke="#222" stroke-width="0.7"/>
<path d="M483.1,468.9L488.7,465.6L488.7,473.1L483.6,475.9Z" fill="#2e2e2e" stroke="#222" stroke-width="0.8" stroke-linejoin="round"/>
<path d="M406.4,467.4L416,467.4" stroke="#2a2a2a" stroke-width="1.4" fill="none"/>
<path d="M421.8,467.4L416,470.4L416,464.4Z" fill="#2a2a2a"/>
<path d="M573.4,455.8L567.26,450.13" stroke="#2a2a2a" stroke-width="1.4" fill="none"/>
<path d="M563,446.2L569.3,447.93L565.23,452.34Z" fill="#2a2a2a"/>
<path d="M666.2,481L676.4,481" stroke="#2a2a2a" stroke-width="1.4" fill="none"/>
<path d="M682.2,481L676.4,484L676.4,478Z" fill="#2a2a2a"/>
<path d="M633.6,536.2L640.26,529.66" stroke="#2a2a2a" stroke-width="1.4" fill="none"/>
<path d="M644.4,525.6L642.36,531.8L638.16,527.52Z" fill="#2a2a2a"/>
<path d="M251.1,941.6L251.1,930" stroke="#2a2a2a" stroke-width="1.1" fill="none"/>
<path d="M251.1,925.6L253.6,930L248.6,930Z" fill="#2a2a2a"/>
<path d="M259.6,933 V936 C260.5,940 278,940 278.8,936 V933" fill="#d4d4d4" stroke="#1f1f1f" stroke-width="1" />
<ellipse cx="269.2" cy="933" rx="9.6" ry="3.1" fill="#e2e2e2" stroke="#222" stroke-width="1"/>
<ellipse cx="269.2" cy="932.6" rx="3.4" ry="1.1" fill="#fff" stroke="#222" stroke-width="0.8"/>
<path d="M264.8,941.2 L266.8,940.2 L271.0,940.2 L272.6,941.4 V944.6 L270.6,945.6 L266.4,945.4 L264.8,944.4Z" fill="#ddd" stroke="#1f1f1f" stroke-width="1" />
<ellipse cx="268.7" cy="941.4" rx="2.4" ry="0.9" fill="#fff" stroke="#222" stroke-width="0.7"/>
<g transform="rotate(19 257.6 955)">
<path d="M238.4,952.7 H253.0 A5.1,5.1 0 0 1 261.8,952.9 H256.8 Q255.4,955 256.8,957.1 H261.8 A5.1,5.1 0 0 1 253.0,957.3 H238.4Z" fill="#fff" stroke="#1f1f1f" stroke-width="1.1" stroke-linejoin="round"/>
</g>
<path d="M279.4,959.2 C283.2,959.6 284.8,956.8 283.0,953.8" fill="none" stroke="#1f1f1f" stroke-width="1" />
<path d="M281.2,952.6 L284.8,952.8 L283.4,955.8Z" fill="#222"/>
<g transform="translate(275.8,982.2) scale(0.72)" stroke-linejoin="round" stroke-linecap="round">
<path d="M-12.3,-45.2 L-12.3,-32.5 L-6.4,-32.5 L-6.4,-45.2 Q-9.3,-46.5 -12.3,-45.2Z" fill="#fff" stroke="#222" stroke-width="1.67"/>
<path d="M-1.4,-19.5 L4.4,-22.6 L6.6,-21.4 L7.4,-15.2 L2,-13Z" fill="#fff" stroke="#222" stroke-width="1.67"/>
<ellipse cx="0.3" cy="0" rx="16.8" ry="15.6" fill="#fbfbfb" stroke="#222" stroke-width="1.92" transform="rotate(-12 0.3 0)"/>
<path d="M3.4,-15 C12.6,-9.67 13.4,10.3 4.2,14.7" fill="none" stroke="#555" stroke-width="1.33"/>
<ellipse cx="-2.7" cy="0.2" rx="13.8" ry="15.1" fill="#f1f1f1" stroke="#222" stroke-width="1.83" transform="rotate(-10 -2.7 0.2)"/>
<ellipse cx="-2.3" cy="0.87" rx="9.4" ry="10.23" fill="#8c8c8c" stroke="#222" stroke-width="1.67" transform="rotate(-10 -2.3 0.87)"/>
<ellipse cx="-2.9" cy="1.04" rx="6.4" ry="7.45" fill="#ececec" stroke="#222" stroke-width="1.5" transform="rotate(-10 -2.9 1.04)"/>
<ellipse cx="-4.6" cy="1.65" rx="2.7" ry="3.1" fill="#222" stroke="#222" stroke-width="1.67"/>
<path d="M-20.2,-23.2 C-19.6,-12 -15.5,-4.5 -10.2,-0.6 L-6.0,4.4 L-1.2,2.2 L-1.6,-17.5 L-3.2,-22.5 Z" fill="#fff" stroke="#222" stroke-width="1.67"/>
<path d="M-9.9,-19.4 L-9.4,-1.2 M-6.6,-19.0 L-6.2,2.4" fill="none" stroke="#222" stroke-width="1.5"/>
<path d="M-4.6,-13.2 L-2,-13.6" fill="none" stroke="#222" stroke-width="1.33"/>
<path d="M-20.4,-24.6 C-20.6,-30.5 -15.5,-34.2 -9.4,-34.2 C-3.3,-34.2 1.6,-30.5 1.6,-24.6 C-3.5,-20.4 -15.5,-20.4 -20.4,-24.6Z" fill="#fff" stroke="#222" stroke-width="1.67"/>
<path d="M-20.0,-27.4 C-15,-23.6 -3.8,-23.6 1.2,-27.4" fill="none" stroke="#222" stroke-width="1.33"/>
<ellipse cx="-9.4" cy="-31.4" rx="6.4" ry="2.6" fill="#3a3a3a" stroke="#222" stroke-width="1.67"/>
<ellipse cx="-9.4" cy="-32.6" rx="4.2" ry="1.6" fill="#fff" stroke="#222" stroke-width="1.33"/>
<path d="M-12.3,-45.2 L-12.3,-32.6 Q-9.3,-31.4 -6.4,-32.6 L-6.4,-45.2 Q-9.3,-46.5 -12.3,-45.2Z" fill="#fff" stroke="#222" stroke-width="1.67"/>
<path d="M0.6,-17.6 L2.6,-23.6 L22.8,-19.6 L22.2,-17.0 L17.0,-12.6 L-1.4,-16.4 Z" fill="#fff" stroke="#222" stroke-width="1.67"/>
<path d="M2.6,-23.6 L1.2,-19.8 L17.6,-16.2 L22.8,-19.6 M17.6,-16.2 L17.0,-12.6" fill="none" stroke="#222" stroke-width="1.5"/>
<path d="M6.4,-14.6 L7.2,-9.6 L11.6,-7.0 L12.4,-13.4" fill="#fff" stroke="#222" stroke-width="1.5"/>
</g>
<g transform="translate(493.2,901.8) scale(0.68)" stroke-linejoin="round" stroke-linecap="round">
<path d="M-1.4,-19.5 L4.4,-22.6 L6.6,-21.4 L7.4,-15.2 L2,-13Z" fill="#fff" stroke="#222" stroke-width="1.76"/>
<ellipse cx="0.3" cy="0" rx="17.2" ry="17.6" fill="#fbfbfb" stroke="#222" stroke-width="2.03" transform="rotate(-12 0.3 0)"/>
<path d="M3.4,-17 C12.6,-10.91 13.4,11.62 4.2,16.7" fill="none" stroke="#555" stroke-width="1.41"/>
<ellipse cx="-2.7" cy="0.2" rx="14.2" ry="17.1" fill="#f1f1f1" stroke="#222" stroke-width="1.94" transform="rotate(-10 -2.7 0.2)"/>
<ellipse cx="-2.3" cy="0.98" rx="9.4" ry="11.54" fill="#8c8c8c" stroke="#222" stroke-width="1.76" transform="rotate(-10 -2.3 0.98)"/>
<ellipse cx="-2.9" cy="1.17" rx="6.4" ry="8.41" fill="#ececec" stroke="#222" stroke-width="1.59" transform="rotate(-10 -2.9 1.17)"/>
<ellipse cx="-4.6" cy="1.86" rx="2.7" ry="3.1" fill="#222" stroke="#222" stroke-width="1.76"/>
<path d="M-20.2,-23.2 C-19.6,-12 -15.5,-4.5 -10.2,-0.6 L-6.0,4.4 L-1.2,2.2 L-1.6,-17.5 L-3.2,-22.5 Z" fill="#fff" stroke="#222" stroke-width="1.76"/>
<path d="M-9.9,-19.4 L-9.4,-1.2 M-6.6,-19.0 L-6.2,2.4" fill="none" stroke="#222" stroke-width="1.59"/>
<path d="M-4.6,-13.2 L-2,-13.6" fill="none" stroke="#222" stroke-width="1.41"/>
<ellipse cx="-9.4" cy="-25" rx="10.6" ry="4.6" fill="#fff" stroke="#222" stroke-width="1.76"/>
<path d="M-21,-29.5 L-20.0,-25.0 M2.2,-29.5 L1.2,-25.0" fill="none" stroke="#222" stroke-width="1.76"/>
<path d="M2.6,-31.8 C4.4,-29.6 3.6,-26.4 0.8,-24.2" fill="none" stroke="#222" stroke-width="1.41"/>
<ellipse cx="-9.4" cy="-29.5" rx="11.6" ry="4.8" fill="#fff" stroke="#222" stroke-width="1.76"/>
</g>
<g transform="translate(697.8,922.4) scale(0.72)" stroke-linejoin="round" stroke-linecap="round">
<path d="M-1.4,-19.5 L4.4,-22.6 L6.6,-21.4 L7.4,-15.2 L2,-13Z" fill="#fff" stroke="#222" stroke-width="1.67"/>
<ellipse cx="0.3" cy="0" rx="16.8" ry="15.8" fill="#fbfbfb" stroke="#222" stroke-width="1.92" transform="rotate(-12 0.3 0)"/>
<path d="M3.4,-15.2 C12.6,-9.8 13.4,10.43 4.2,14.9" fill="none" stroke="#555" stroke-width="1.33"/>
<ellipse cx="-2.7" cy="0.2" rx="13.8" ry="15.3" fill="#f1f1f1" stroke="#222" stroke-width="1.83" transform="rotate(-10 -2.7 0.2)"/>
<ellipse cx="-2.3" cy="0.88" rx="9.4" ry="10.36" fill="#8c8c8c" stroke="#222" stroke-width="1.67" transform="rotate(-10 -2.3 0.88)"/>
<ellipse cx="-2.9" cy="1.05" rx="6.4" ry="7.55" fill="#ececec" stroke="#222" stroke-width="1.5" transform="rotate(-10 -2.9 1.05)"/>
<ellipse cx="-4.6" cy="1.67" rx="2.7" ry="3.1" fill="#222" stroke="#222" stroke-width="1.67"/>
<path d="M-20.2,-23.2 C-19.6,-12 -15.5,-4.5 -10.2,-0.6 L-6.0,4.4 L-1.2,2.2 L-1.6,-17.5 L-3.2,-22.5 Z" fill="#fff" stroke="#222" stroke-width="1.67"/>
<path d="M-9.9,-19.4 L-9.4,-1.2 M-6.6,-19.0 L-6.2,2.4" fill="none" stroke="#222" stroke-width="1.5"/>
<path d="M-4.6,-13.2 L-2,-13.6" fill="none" stroke="#222" stroke-width="1.33"/>
<path d="M-20.4,-24.6 C-20.6,-30.5 -15.5,-34.2 -9.4,-34.2 C-3.3,-34.2 1.6,-30.5 1.6,-24.6 C-3.5,-20.4 -15.5,-20.4 -20.4,-24.6Z" fill="#fff" stroke="#222" stroke-width="1.67"/>
<path d="M-20.0,-27.4 C-15,-23.6 -3.8,-23.6 1.2,-27.4" fill="none" stroke="#222" stroke-width="1.33"/>
<ellipse cx="-9.4" cy="-31.4" rx="6.4" ry="2.6" fill="#3a3a3a" stroke="#222" stroke-width="1.67"/>
<path d="M0.6,-17.6 L2.6,-23.6 L22.8,-19.6 L22.2,-17.0 L17.0,-12.6 L-1.4,-16.4 Z" fill="#fff" stroke="#222" stroke-width="1.67"/>
<path d="M2.6,-23.6 L1.2,-19.8 L17.6,-16.2 L22.8,-19.6 M17.6,-16.2 L17.0,-12.6" fill="none" stroke="#222" stroke-width="1.5"/>
<path d="M6.4,-14.6 L7.2,-9.6 L11.6,-7.0 L12.4,-13.4" fill="#fff" stroke="#222" stroke-width="1.5"/>
</g>
<g transform="translate(644.2,954.8) scale(0.72)" stroke-linejoin="round" stroke-linecap="round">
<path d="M-1.4,-19.5 L4.4,-22.6 L6.6,-21.4 L7.4,-15.2 L2,-13Z" fill="#fff" stroke="#222" stroke-width="1.67"/>
<ellipse cx="0.3" cy="0" rx="16.8" ry="15.8" fill="#fbfbfb" stroke="#222" stroke-width="1.92" transform="rotate(-12 0.3 0)"/>
<path d="M3.4,-15.2 C12.6,-9.8 13.4,10.43 4.2,14.9" fill="none" stroke="#555" stroke-width="1.33"/>
<ellipse cx="-2.7" cy="0.2" rx="13.8" ry="15.3" fill="#f1f1f1" stroke="#222" stroke-width="1.83" transform="rotate(-10 -2.7 0.2)"/>
<ellipse cx="-2.3" cy="0.88" rx="9.4" ry="10.36" fill="#8c8c8c" stroke="#222" stroke-width="1.67" transform="rotate(-10 -2.3 0.88)"/>
<ellipse cx="-2.9" cy="1.05" rx="6.4" ry="7.55" fill="#ececec" stroke="#222" stroke-width="1.5" transform="rotate(-10 -2.9 1.05)"/>
<ellipse cx="-4.6" cy="1.67" rx="2.7" ry="3.1" fill="#222" stroke="#222" stroke-width="1.67"/>
<path d="M-20.2,-23.2 C-19.6,-12 -15.5,-4.5 -10.2,-0.6 L-6.0,4.4 L-1.2,2.2 L-1.6,-17.5 L-3.2,-22.5 Z" fill="#fff" stroke="#222" stroke-width="1.67"/>
<path d="M-9.9,-19.4 L-9.4,-1.2 M-6.6,-19.0 L-6.2,2.4" fill="none" stroke="#222" stroke-width="1.5"/>
<path d="M-4.6,-13.2 L-2,-13.6" fill="none" stroke="#222" stroke-width="1.33"/>
<path d="M-20.4,-24.6 C-20.6,-30.5 -15.5,-34.2 -9.4,-34.2 C-3.3,-34.2 1.6,-30.5 1.6,-24.6 C-3.5,-20.4 -15.5,-20.4 -20.4,-24.6Z" fill="#fff" stroke="#222" stroke-width="1.67"/>
<path d="M-20.0,-27.4 C-15,-23.6 -3.8,-23.6 1.2,-27.4" fill="none" stroke="#222" stroke-width="1.33"/>
<ellipse cx="-9.4" cy="-31.4" rx="6.4" ry="2.6" fill="#3a3a3a" stroke="#222" stroke-width="1.67"/>
<path d="M0.6,-17.6 L2.6,-23.6 L22.8,-19.6 L22.2,-17.0 L17.0,-12.6 L-1.4,-16.4 Z" fill="#fff" stroke="#222" stroke-width="1.67"/>
<path d="M2.6,-23.6 L1.2,-19.8 L17.6,-16.2 L22.8,-19.6 M17.6,-16.2 L17.0,-12.6" fill="none" stroke="#222" stroke-width="1.5"/>
<path d="M6.4,-14.6 L7.2,-9.6 L11.6,-7.0 L12.4,-13.4" fill="#fff" stroke="#222" stroke-width="1.5"/>
</g>
<path d="M481.4,875.4 V880.2 L486.0,881.4 L489.6,879.6 V875.4Z" fill="#fff" stroke="none" stroke-width="1.6" />
<path d="M481.4,875.4 V880.2 L486.0,881.4 L489.6,879.6 V875.4 M486.0,875.4 V881.4" fill="none" stroke="#1f1f1f" stroke-width="1.6" />
<path d="M268.8,584.0 L273.4,585.2" fill="none" stroke="#1f1f1f" stroke-width="1.1" />
<path d="M698.8,722.2L704.2,720.4L704.2,729.2L698.8,730.8Z" fill="#333" stroke="#222" stroke-width="0.7"/>
<path d="M703.2,721.2L703.2,729" stroke="#9a9a9a" stroke-width="1"/>
<path d="M707.1,727.6L716.1,729.8" stroke="#2a2a2a" stroke-width="3" stroke-linecap="round" fill="none"/>
<path d="M707.5,727.7L715.9,729.75" stroke="#ddd" stroke-width="1.1" stroke-linecap="round" fill="none"/>
<circle cx="715.5" cy="729.6" r="1.7" fill="#555" stroke="#222" stroke-width="0.7"/>
<path d="M645.3,753.5L650.7,751.7L650.7,760.5L645.3,762.1Z" fill="#333" stroke="#222" stroke-width="0.7"/>
<path d="M649.7,752.5L649.7,760.3" stroke="#9a9a9a" stroke-width="1"/>
<path d="M653.6,758.9L662.6,761.1" stroke="#2a2a2a" stroke-width="3" stroke-linecap="round" fill="none"/>
<path d="M654,759L662.4,761.05" stroke="#ddd" stroke-width="1.1" stroke-linecap="round" fill="none"/>
<circle cx="662" cy="760.9" r="1.7" fill="#555" stroke="#222" stroke-width="0.7"/>
<path d="M699.6,804.5L705,802.7L705,811.5L699.6,813.1Z" fill="#333" stroke="#222" stroke-width="0.7"/>
<path d="M704,803.5L704,811.3" stroke="#9a9a9a" stroke-width="1"/>
<path d="M707.9,809.9L716.9,812.1" stroke="#2a2a2a" stroke-width="3" stroke-linecap="round" fill="none"/>
<path d="M708.3,810L716.7,812.05" stroke="#ddd" stroke-width="1.1" stroke-linecap="round" fill="none"/>
<circle cx="716.3" cy="811.9" r="1.7" fill="#555" stroke="#222" stroke-width="0.7"/>
<path d="M643.5,839.1L648.9,837.3L648.9,846.1L643.5,847.7Z" fill="#333" stroke="#222" stroke-width="0.7"/>
<path d="M647.9,838.1L647.9,845.9" stroke="#9a9a9a" stroke-width="1"/>
<path d="M651.8,844.5L660.8,846.7" stroke="#2a2a2a" stroke-width="3" stroke-linecap="round" fill="none"/>
<path d="M652.2,844.6L660.6,846.65" stroke="#ddd" stroke-width="1.1" stroke-linecap="round" fill="none"/>
<circle cx="660.2" cy="846.5" r="1.7" fill="#555" stroke="#222" stroke-width="0.7"/>
<path d="M699.7,881.2L705.1,879.4L705.1,888.2L699.7,889.8Z" fill="#333" stroke="#222" stroke-width="0.7"/>
<path d="M704.1,880.2L704.1,888" stroke="#9a9a9a" stroke-width="1"/>
<path d="M708,886.6L717,888.8" stroke="#2a2a2a" stroke-width="3" stroke-linecap="round" fill="none"/>
<path d="M708.4,886.7L716.8,888.75" stroke="#ddd" stroke-width="1.1" stroke-linecap="round" fill="none"/>
<circle cx="716.4" cy="888.6" r="1.7" fill="#555" stroke="#222" stroke-width="0.7"/>
<path d="M644.5,912.2L649.9,910.4L649.9,919.2L644.5,920.8Z" fill="#333" stroke="#222" stroke-width="0.7"/>
<path d="M648.9,911.2L648.9,919" stroke="#9a9a9a" stroke-width="1"/>
<path d="M652.8,917.6L661.8,919.8" stroke="#2a2a2a" stroke-width="3" stroke-linecap="round" fill="none"/>
<path d="M653.2,917.7L661.6,919.75" stroke="#ddd" stroke-width="1.1" stroke-linecap="round" fill="none"/>
<circle cx="661.2" cy="919.6" r="1.7" fill="#555" stroke="#222" stroke-width="0.7"/></svg>
<div class="topshade"></div>
</body></html>
